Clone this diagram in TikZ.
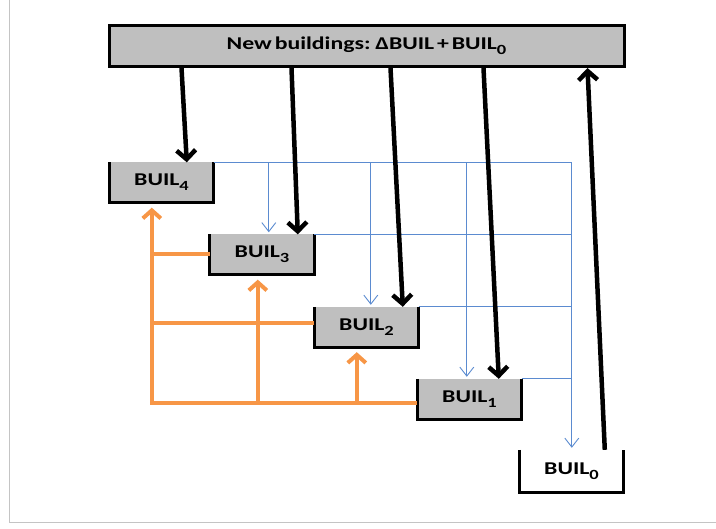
\documentclass[tikz,border=0pt]{standalone}
\usepackage{fontspec}
\setmainfont{Carlito}
\usetikzlibrary{arrows.meta,calc}
\newcommand{\lowidx}[1]{\raisebox{-5pt}{\fontsize{14}{14}\selectfont #1}}
\newcommand{\widetxt}[1]{\scalebox{1.32}[1]{\spaceskip=0.12em\relax #1}}
\definecolor{boxgray}{HTML}{BFBFBF}
\definecolor{ablue}{HTML}{5B8BD0}
\definecolor{aorange}{HTML}{F79646}
\definecolor{framegray}{HTML}{C4C4C4}
\begin{document}
\begin{tikzpicture}[x=1pt,y=-1pt,
  box/.style={fill=boxgray, minimum width=104pt, minimum height=40pt, inner sep=0pt,
    font=\fontsize{18}{18}\selectfont\bfseries},
  side/.style={line width=3pt, line join=miter},
  blk/.style={line width=4.5pt, -{Straight Barb[length=9pt,width=19pt]}},
  org/.style={line width=4pt, draw=aorange},
  orgarr/.style={org, -{Straight Barb[length=8pt,width=18pt]}, shorten >=5pt},
  bl/.style={line width=0.9pt, draw=ablue},
  blarr/.style={bl, -{Straight Barb[length=9pt,width=14pt]}, shorten >=2pt}
]
\useasboundingbox (0,0) rectangle (716,529);
% frame
\draw[framegray, line width=1pt] (9,0) -- (9,523) -- (716,523);

% top box
\node[box, draw, line width=3pt, minimum width=515pt, minimum height=41pt] (top) at (366.5,46)
  {\widetxt{New buildings: ΔBUIL + BUIL\lowidx{0}}};

% stock boxes
\node[box] (b4) at (161.5,182.5) {\widetxt{BUIL\lowidx{4}}};
\node[box] (b3) at (262,254.5) {\widetxt{BUIL\lowidx{3}}};
\node[box] (b2) at (366.5,327) {\widetxt{BUIL\lowidx{2}}};
\node[box] (b1) at (469.5,399) {\widetxt{BUIL\lowidx{1}}};
\node[box, fill=white, minimum height=42pt] (b0) at (571.5,471) {\widetxt{BUIL\lowidx{0}}};
\foreach \b in {b4,b3,b2,b1,b0}
  \draw[side] (\b.north west) -- (\b.south west) -- (\b.south east) -- (\b.north east);

% blue flows
\coordinate (c3) at ([xshift=59pt]b3.north west);
\coordinate (c2) at ([xshift=56.5pt]b2.north west);
\coordinate (c1) at ([xshift=49.5pt]b1.north west);
\coordinate (c0) at ([xshift=52.5pt]b0.north west);
\foreach \b in {b4,b3,b2,b1}
  \draw[bl] (\b.north east) -- (\b.north east -| c0);
\draw[blarr] (c3 |- b4.north) -- (c3);
\draw[blarr] (c2 |- b4.north) -- (c2);
\draw[blarr] (c1 |- b4.north) -- (c1);
\draw[blarr] (c0 |- b4.north) -- (c0);

% black flows
\draw[blk] ([xshift=74pt]top.south west) -- ([xshift=77.5pt]b4.north west);
\draw[blk] ([xshift=184pt]top.south west) -- ([xshift=88pt]b3.north west);
\draw[blk] ([xshift=283pt]top.south west) -- ([xshift=88.5pt]b2.north west);
\draw[blk] ([xshift=376pt]top.south west) -- ([xshift=81.5pt]b1.north west);
\draw[blk] ([xshift=85.5pt]b0.north west) -- ([xshift=480pt]top.south west);

% orange flows
\coordinate (ob1) at ([yshift=-4pt]b1.west);
\coordinate (ob2) at ([yshift=4pt]b2.west);
\coordinate (o4) at ([xshift=42.5pt]b4.south west);
\coordinate (o3) at ([xshift=48pt]b3.south west);
\coordinate (o2) at ([xshift=42.5pt]b2.south west);
\draw[org] (b3.west) -- (b3.west -| o4);
\draw[org] (ob2) -- (ob2 -| o4);
\draw[orgarr] (ob1) -| (o4);
\draw[orgarr] (o3 |- ob1) -- (o3);
\draw[orgarr] (o2 |- ob1) -- (o2);
\end{tikzpicture}
\end{document}
